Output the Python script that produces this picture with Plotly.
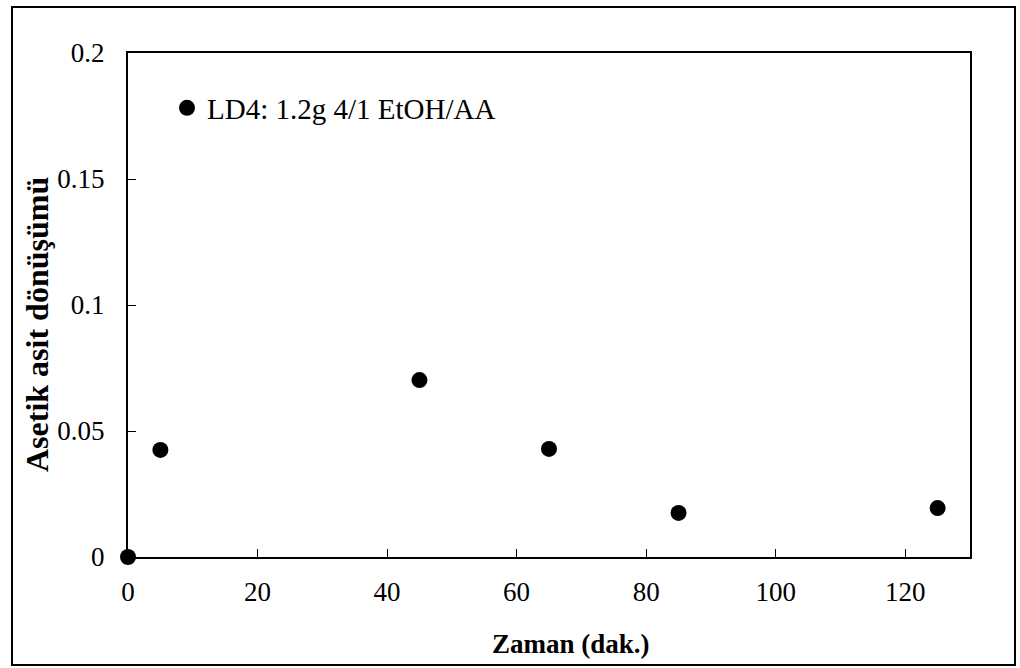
import plotly.graph_objects as go

time_min = [0, 5, 45, 65, 85, 125]
conversion = [0.0, 0.0425, 0.0702, 0.0429, 0.0175, 0.0194]
series_name = "LD4: 1.2g 4/1 EtOH/AA"
x_ticks = [0, 20, 40, 60, 80, 100, 120]
y_ticks = [0, 0.05, 0.1, 0.15, 0.2]
y_tick_text = ["0", "0.05", "0.1", "0.15", "0.2"]
x_title = "Zaman (dak.)"
y_title = "Asetik asit dönüşümü"

FONT = "Liberation Serif"

fig = go.Figure()
fig.add_trace(go.Scatter(
    x=time_min, y=conversion, mode="markers", name=series_name,
    marker=dict(color="black", size=16), cliponaxis=False,
))

L, R, T, B = 128, 50, 53, 111
W, H = 1020, 668
pw, ph = W - L - R, H - T - B

def px(x):
    return (x - L) / pw

def py(y):
    return (H - B - y) / ph

fig.update_layout(
    width=W, height=H,
    margin=dict(l=L, r=R, t=T, b=B),
    paper_bgcolor="white", plot_bgcolor="white",
    font=dict(family=FONT, color="black", size=26),
    showlegend=True,
    legend=dict(x=px(167), y=py(108), xanchor="left", yanchor="middle",
                bgcolor="rgba(0,0,0,0)", font=dict(family=FONT, size=29),
                itemsizing="trace", itemwidth=30),
    xaxis=dict(range=[0, 130], tickvals=x_ticks, ticks="inside", ticklen=8,
               tickcolor="black", showline=True, linecolor="black", linewidth=2,
               mirror=True, showgrid=False, zeroline=False,
               tickfont=dict(family=FONT, size=27), ticklabelstandoff=10),
    yaxis=dict(range=[0, 0.2], tickvals=y_ticks, ticktext=y_tick_text, ticks="inside",
               ticklen=8, tickcolor="black", showline=True, linecolor="black", linewidth=2,
               mirror=True, showgrid=False, zeroline=False,
               tickfont=dict(family=FONT, size=27), ticklabelstandoff=16),
    annotations=[
        dict(text=x_title, xref="paper", yref="paper", x=px(571), y=py(644),
             xanchor="center", yanchor="middle", showarrow=False,
             font=dict(family=FONT, size=27, weight="bold")),
        dict(text=y_title, xref="paper", yref="paper", x=px(37), y=py(325),
             xanchor="center", yanchor="middle", showarrow=False, textangle=-90,
             font=dict(family=FONT, size=32, weight="bold")),
    ],
    shapes=[dict(type="rect", xref="paper", yref="paper",
                 x0=px(12), x1=px(1015), y0=py(665), y1=py(7),
                 line=dict(color="black", width=2))],
)

fig.write_html("out.html")
